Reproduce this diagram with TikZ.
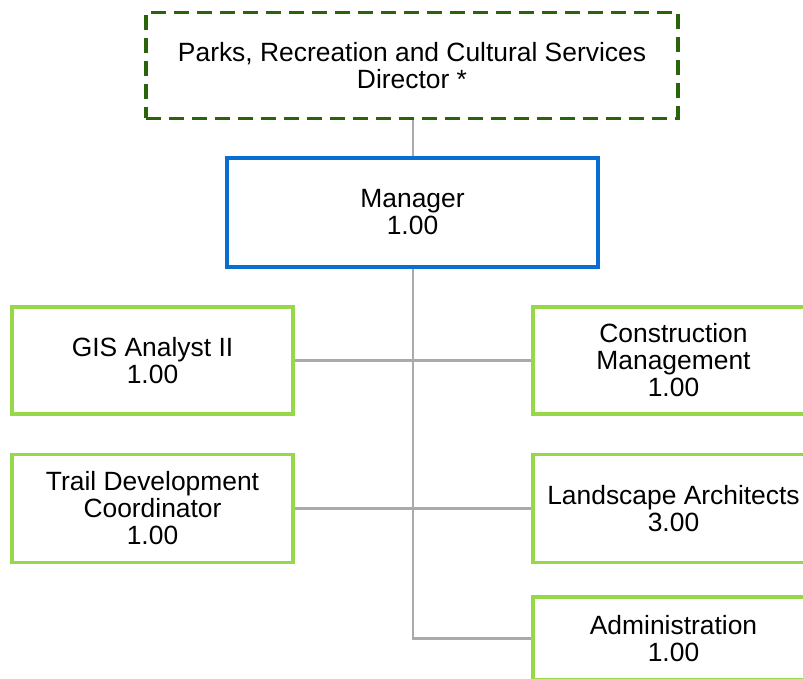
\documentclass[tikz,border=0pt]{standalone}
\usepackage{fontspec}
\setmainfont{Liberation Sans}
\begin{document}
\begin{tikzpicture}[x=1pt,y=-1pt,
  font=\fontsize{26.4}{27}\selectfont,
  box/.style={rectangle, align=center, inner sep=0pt, line width=3.4pt},
  dirbox/.style={box, draw=dirgreen, dash pattern=on 15pt off 8pt},
  mgrbox/.style={box, draw=mgrblue},
  posbox/.style={box, draw=posgreen},
  conn/.style={draw=conngray, line width=2.8pt}
]
\definecolor{dirgreen}{RGB}{42,100,10}
\definecolor{mgrblue}{RGB}{10,110,208}
\definecolor{posgreen}{RGB}{150,216,72}
\definecolor{conngray}{RGB}{170,170,170}
\useasboundingbox (0,0) rectangle (803,679);
\clip (0,0) rectangle (803,679);

\node[dirbox, minimum width=532pt, minimum height=106pt] (dir) at (412,65.5)
  {Parks, Recreation and Cultural Services\\Director *};
\node[mgrbox, minimum width=371pt, minimum height=109pt] (mgr) at (412.5,212.5)
  {Manager\\1.00};
\node[posbox, minimum width=281pt, minimum height=107pt] (gis) at (152.5,360.5)
  {GIS Analyst II\\1.00};
\node[posbox, minimum width=281pt, minimum height=108pt] (trail) at (152.5,508.5)
  {Trail Development\\Coordinator\\1.00};
\node[posbox, minimum width=281pt, minimum height=107pt] (cm) at (673.5,360.5)
  {Construction\\Management\\1.00};
\node[posbox, minimum width=281pt, minimum height=108pt] (land) at (673.5,508.5)
  {Landscape Architects\\3.00};
\node[posbox, minimum width=281pt, minimum height=83pt] (adm) at (673.5,638.5)
  {Administration\\1.00};
\coordinate (tb) at (413,638.5);

\draw[conn] (dir.south -| tb) -- (mgr.north -| tb);
\draw[conn] (mgr.south -| tb) -- (tb) -- (adm.west);
\draw[conn] (gis.east) -- (cm.west);
\draw[conn] (trail.east) -- (land.west);
\end{tikzpicture}
\end{document}
